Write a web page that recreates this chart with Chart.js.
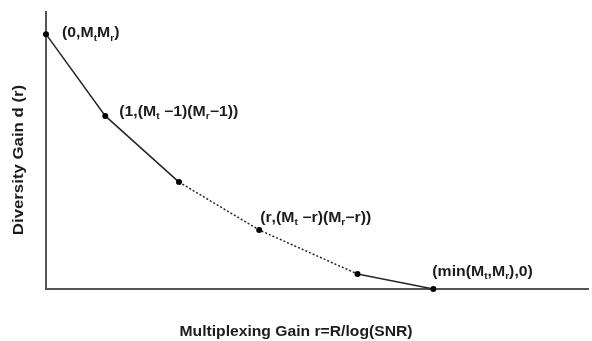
<!DOCTYPE html>
<html>
<head>
<meta charset="utf-8">
<script src="https://cdn.jsdelivr.net/npm/chart.js@4.4.1/dist/chart.umd.min.js"></script>
<style>
  html, body { margin: 0; padding: 0; background: #fff; }
  #wrap { width: 592px; height: 341px; position: relative; }
</style>
</head>
<body>
<div id="wrap"><canvas id="dmtChart"></canvas></div>
<script>
// Diversity-multiplexing tradeoff curve (schematic)
const gainR = [0, 0.82, 1.84, 2.95, 4.31, 5.36];
const gainD = [9.2, 6.25, 3.86, 2.13, 0.54, 0];
const pointLabels = ['(0,M_tM_r)', '(1,(M_t −1)(M_r−1))', '', '(r,(M_t −r)(M_r−r))', '', '(min(M_t,M_r),0)'];
const dottedFrom = 2;   // segments starting at these indexes are dotted
const dottedTo = 4;
const xTitle = 'Multiplexing Gain r=R/log(SNR)';
const yTitle = 'Diversity Gain d (r)';

const labelOffsets = [[16, -1], [14, -4], [0, 0], [1, -12], [0, 0], [-1, -17]];
const textColor = '#1c1c1c';
const FONT = '"Liberation Sans", Arial, sans-serif';

// draw a string where "_x" means subscript x, stretched a bit horizontally
function drawSubText(ctx, str, x, y) {
    ctx.save();
    ctx.translate(x, y);
    ctx.scale(1.13, 1);
    let cx = 0;
    for (let i = 0; i < str.length; i++) {
        if (str[i] === '_' && i + 1 < str.length) {
            ctx.font = 'bold 9px ' + FONT;
            ctx.fillText(str[i + 1], cx, 5);
            cx += ctx.measureText(str[i + 1]).width;
            i++;
        } else {
            ctx.font = 'bold 14px ' + FONT;
            ctx.fillText(str[i], cx, 0);
            cx += ctx.measureText(str[i]).width;
        }
    }
    ctx.restore();
}

const labelPlugin = {
    id: 'labelPlugin',
    afterDatasetsDraw(chart) {
        const ctx = chart.ctx;
        const xs = chart.scales.x, ys = chart.scales.y;
        ctx.save();
        ctx.fillStyle = textColor;
        ctx.textBaseline = 'middle';
        ctx.textAlign = 'left';
        pointLabels.forEach((lab, i) => {
            if (!lab) return;
            const px = xs.getPixelForValue(gainR[i]) + labelOffsets[i][0];
            const py = ys.getPixelForValue(gainD[i]) + labelOffsets[i][1];
            drawSubText(ctx, lab, px, py);
        });

        // axis titles
        ctx.textAlign = 'center';
        ctx.font = 'bold 14px ' + FONT;
        ctx.save();
        ctx.translate(chart.width / 2, 332);
        ctx.scale(1.12, 1);
        ctx.fillText(xTitle, 0, 0);
        ctx.restore();

        ctx.save();
        ctx.translate(19, 160);
        ctx.rotate(-Math.PI / 2);
        ctx.scale(1.2, 1);
        ctx.fillText(yTitle, 0, 0);
        ctx.restore();
        ctx.restore();
    }
};

new Chart(document.getElementById('dmtChart'), {
    type: 'line',
    data: {
        datasets: [{
            data: gainR.map((r, i) => ({ x: r, y: gainD[i] })),
            borderColor: '#262626',
            borderWidth: 1.5,
            pointRadius: 3,
            pointBackgroundColor: '#000',
            pointBorderWidth: 0,
            tension: 0,
            clip: false,
            segment: {
                borderDash: c => (c.p0DataIndex >= dottedFrom && c.p0DataIndex < dottedTo) ? [2, 2] : undefined
            }
        }]
    },
    options: {
        responsive: true,
        maintainAspectRatio: false,
        animation: false,
        layout: { padding: { left: 46, top: 12, right: 0, bottom: 52 } },
        plugins: {
            legend: { display: false },
            tooltip: { enabled: false },
            title: { display: false }
        },
        scales: {
            x: {
                type: 'linear',
                min: 0,
                max: 7.5,
                grid: { display: false, drawTicks: false },
                ticks: { display: false },
                border: { color: '#555', width: 2 }
            },
            y: {
                type: 'linear',
                min: 0,
                max: 10,
                grid: { display: false, drawTicks: false },
                ticks: { display: false },
                border: { color: '#555', width: 2 }
            }
        }
    },
    plugins: [labelPlugin]
});
</script>
</body>
</html>
